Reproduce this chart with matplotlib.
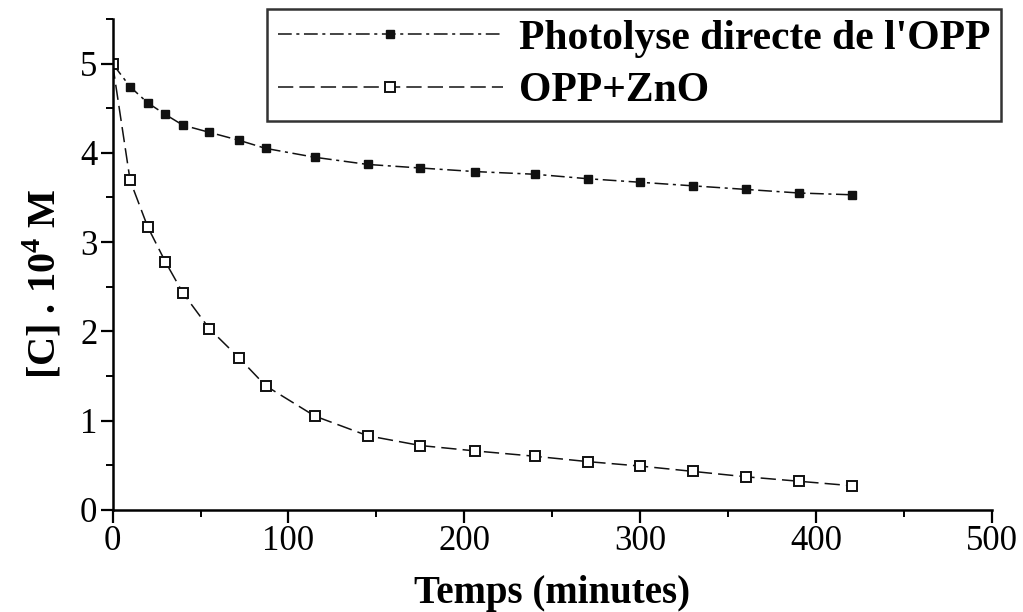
import matplotlib
matplotlib.use("Agg")
import matplotlib.pyplot as plt
from matplotlib.ticker import MultipleLocator

plt.rcParams["font.family"] = ["Liberation Serif", "DejaVu Serif"]
plt.rcParams["mathtext.fontset"] = "custom"
plt.rcParams["mathtext.bf"] = "Liberation Serif:bold"
plt.rcParams["mathtext.rm"] = "Liberation Serif"

# ---- data ----
temps = [0, 10, 20, 30, 40, 55, 72, 87, 115, 145, 175, 206, 240,
         270, 300, 330, 360, 390, 420]
photolyse = [5.0, 4.74, 4.56, 4.43, 4.31, 4.23, 4.14, 4.05, 3.95, 3.87,
             3.83, 3.79, 3.76, 3.71, 3.67, 3.63, 3.59, 3.55, 3.53]
opp_zno = [5.0, 3.69, 3.17, 2.78, 2.43, 2.03, 1.70, 1.39, 1.05, 0.83,
           0.72, 0.66, 0.60, 0.54, 0.49, 0.43, 0.37, 0.32, 0.27]

label_photo = "Photolyse directe de l'OPP"
label_zno = "OPP+ZnO"

fig = plt.figure(figsize=(10.23, 6.12), dpi=100)
ax = fig.add_axes([0.110, 0.167, 0.860, 0.802])

ax.plot(temps, photolyse, color="#111111", lw=1.1, ls=(0, (9, 3, 2, 3)),
        marker="s", ms=6, mfc="#111111", mec="#111111", label=label_photo)
ax.plot(temps, opp_zno, color="#111111", lw=1.1, ls=(0, (10, 4)),
        marker="s", ms=7, mfc="white", mec="#111111", mew=1.4,
        label=label_zno)

ax.set_xlim(0, 500)
ax.set_ylim(0, 5.5)
ax.xaxis.set_major_locator(MultipleLocator(100))
ax.xaxis.set_minor_locator(MultipleLocator(50))
ax.yaxis.set_major_locator(MultipleLocator(1))
ax.yaxis.set_minor_locator(MultipleLocator(0.5))

for s in ["top", "right"]:
    ax.spines[s].set_visible(False)
for s in ["left", "bottom"]:
    ax.spines[s].set_linewidth(1.8)

ax.tick_params(which="major", direction="out", length=9, width=1.6,
               labelsize=25, pad=2)
ax.tick_params(which="minor", direction="out", length=5, width=1.4)

ax.set_xlabel("Temps (minutes)", fontsize=28, fontweight="bold", labelpad=12)
ax.set_ylabel(r"[C] . 10$^\mathbf{4}$ M", fontsize=29, fontweight="bold")
ax.yaxis.set_label_coords(-0.055, 0.46)

leg = ax.legend(loc="upper right", bbox_to_anchor=(1.01, 1.02),
                prop={"weight": "bold", "size": 30},
                frameon=True, fancybox=False, edgecolor="black",
                handlelength=5.4, handletextpad=0.4, borderpad=0.25,
                labelspacing=0.35, borderaxespad=0.0)
leg.get_frame().set_linewidth(1.8)

fig.savefig("out.png", dpi=100, facecolor="white")
